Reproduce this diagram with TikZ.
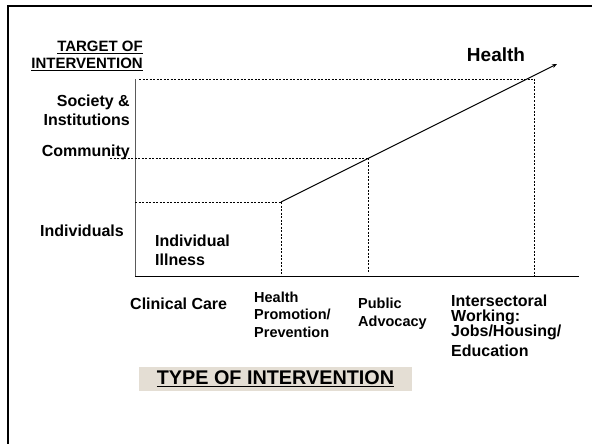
\documentclass[tikz,border=0pt]{standalone}
\usepackage{fontspec}
\setmainfont{Liberation Sans}
\usetikzlibrary{arrows.meta}
\definecolor{beige}{RGB}{228,222,212}
\definecolor{axisgray}{RGB}{90,90,90}
\begin{document}
\begin{tikzpicture}[x=1pt,y=-1pt,
  lbl/.style={inner sep=0pt,font=\bfseries\fontsize{16}{19}\selectfont},
  smalllbl/.style={inner sep=0pt,font=\bfseries\fontsize{14.5}{17.5}\selectfont},
  guide/.style={line width=0.8pt,dash pattern=on 2pt off 1.5pt},
  axisline/.style={line width=1pt}]
\useasboundingbox (0,0) rectangle (592,444);
% frame
\draw[line width=2.6pt] (8,444) -- (8,6) -- (592,6);
% axes
\coordinate (O) at (135,276);
\coordinate (ytop) at (135,79);
\coordinate (xend) at (579,276);
\draw[axisline,axisgray] (O) -- (ytop);
\draw[axisline] (O) -- (xend);
% key points
\coordinate (p1) at (281,202);
\coordinate (p2) at (368,158);
\coordinate (p3) at (534,79);
\coordinate (tip) at (557,64);
% guides
\draw[guide] (139,79) -- (p3);
\draw[guide] (110,158) -- (p2);
\draw[guide] (135,202) -- (p1);
\draw[guide] (p1) -- (281,276);
\draw[guide] (p2) -- (368,273);
\draw[guide] (p3) -- (534,276);
% health line
\draw[line width=1pt,-{Stealth[length=5pt,width=4pt]}] (p1) -- (tip);
% labels
\node[inner sep=0pt,anchor=east,align=right,font=\bfseries\fontsize{15}{16.5}\selectfont] (target) at (143,56) {\underline{TARGET OF}\\\underline{INTERVENTION}};
\node[lbl,anchor=east,align=right] (society) at (130,110) {Society \&\\Institutions};
\node[lbl,anchor=east] (community) at (130,152) {Community};
\node[lbl,anchor=west] (individuals) at (40,231) {Individuals};
\node[inner sep=0pt,font=\bfseries\fontsize{19}{22}\selectfont] (health) at (496,55) {Health};
\node[lbl,anchor=west,align=left] (indill) at (155,250) {Individual\\Illness};
\node[lbl,anchor=west] (clinical) at (130,304) {Clinical Care};
\node[smalllbl,anchor=west,align=left] (hpp) at (254,314.5) {Health\\Promotion/\\Prevention};
\node[smalllbl,anchor=west,align=left] (public) at (358,313.5) {Public\\Advocacy};
\node[inner sep=0pt,anchor=west,align=left,font=\bfseries\fontsize{16}{15}\selectfont] (inter) at (451,326) {Intersectoral\\Working:\\Jobs/Housing/\\[5pt]Education};
\node[fill=beige,minimum width=273pt,minimum height=24pt,inner sep=0pt,font=\bfseries\fontsize{19.8}{22}\selectfont] (type) at (275.5,379) {\underline{TYPE OF INTERVENTION}};
\end{tikzpicture}
\end{document}
